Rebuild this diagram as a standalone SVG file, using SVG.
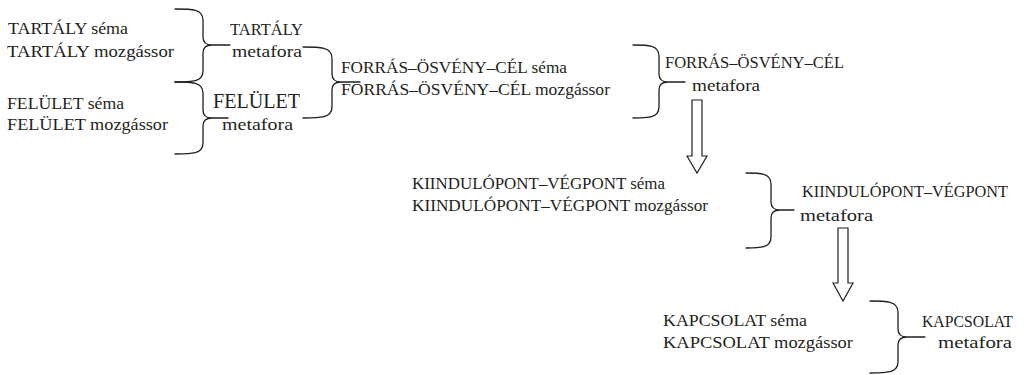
<svg xmlns="http://www.w3.org/2000/svg" width="1027" height="375" viewBox="0 0 1027 375">
<style>
text{font-family:'Liberation Serif','Times New Roman',serif;font-size:17px;fill:#231f20}
.cap{font-size:16px}
.big{font-size:20px}
.brace{fill:none;stroke:#231f20;stroke-width:1.3;stroke-linecap:round;stroke-linejoin:round}
.arrow{fill:#fff;stroke:#231f20;stroke-width:1.2}
</style>
<rect width="1027" height="375" fill="#fff"/>
<g id="tartaly">
<text x="8" y="34" textLength="120" lengthAdjust="spacingAndGlyphs">TARTÁLY séma</text>
<text x="7" y="57" textLength="167" lengthAdjust="spacingAndGlyphs">TARTÁLY mozgássor</text>
<text class="cap" x="230" y="35" textLength="73" lengthAdjust="spacingAndGlyphs">TARTÁLY</text>
<text x="232" y="57" textLength="70" lengthAdjust="spacingAndGlyphs">metafora</text>
</g>
<g id="felulet">
<text x="7" y="109" textLength="117" lengthAdjust="spacingAndGlyphs">FELÜLET séma</text>
<text x="7" y="130" textLength="161" lengthAdjust="spacingAndGlyphs">FELÜLET mozgássor</text>
<text class="big" x="213" y="108" textLength="87" lengthAdjust="spacingAndGlyphs">FELÜLET</text>
<text x="222" y="130" textLength="71" lengthAdjust="spacingAndGlyphs">metafora</text>
</g>
<g id="forras">
<text x="341" y="73" textLength="226" lengthAdjust="spacingAndGlyphs">FORRÁS–ÖSVÉNY–CÉL séma</text>
<text x="341" y="95" textLength="269" lengthAdjust="spacingAndGlyphs">FORRÁS–ÖSVÉNY–CÉL mozgássor</text>
<text class="cap" x="665" y="68" textLength="179" lengthAdjust="spacingAndGlyphs">FORRÁS–ÖSVÉNY–CÉL</text>
<text x="692" y="91" textLength="68" lengthAdjust="spacingAndGlyphs">metafora</text>
</g>
<g id="kiindulopont">
<text x="412" y="189" textLength="253" lengthAdjust="spacingAndGlyphs">KIINDULÓPONT–VÉGPONT séma</text>
<text x="412" y="211" textLength="296" lengthAdjust="spacingAndGlyphs">KIINDULÓPONT–VÉGPONT mozgássor</text>
<text class="cap" x="802" y="197" textLength="206" lengthAdjust="spacingAndGlyphs">KIINDULÓPONT–VÉGPONT</text>
<text x="800" y="221" textLength="73" lengthAdjust="spacingAndGlyphs">metafora</text>
</g>
<g id="kapcsolat">
<text x="663" y="326" textLength="144" lengthAdjust="spacingAndGlyphs">KAPCSOLAT séma</text>
<text x="663" y="348" textLength="190" lengthAdjust="spacingAndGlyphs">KAPCSOLAT mozgássor</text>
<text class="cap" x="922" y="327" textLength="91" lengthAdjust="spacingAndGlyphs">KAPCSOLAT</text>
<text x="938" y="348" textLength="74" lengthAdjust="spacingAndGlyphs">metafora</text>
</g>
<g id="connectors">
<path class="brace" d="M175 9 C192 9 203 9 203 20 L203 37 Q203 45 212 45 L230 45 L212 45 Q203 45 203 53 L203 71 C203 82 192 82 175 82"/>
<path class="brace" d="M175 82 C192 82 203 82 203 93 L203 110 Q203 118 212 118 L228 118 L212 118 Q203 118 203 126 L203 143 C203 154 192 154 175 154"/>
<path class="brace" d="M303 47 C320 47 332 47 332 58 L332 74 Q332 82 341 82 L360 82 L341 82 Q332 82 332 90 L332 107 C332 118 320 118 303 118"/>
<path class="brace" d="M633 45 C648 45 659 45 659 56 L659 74 Q659 82 668 82 L685 82 L668 82 Q659 82 659 90 L659 107 C659 118 648 118 633 118"/>
<path class="brace" d="M746 173 C760 173 771 173 771 184 L771 202 Q771 210 780 210 L794 210 L780 210 Q771 210 771 218 L771 237 C771 248 760 248 746 248"/>
<path class="brace" d="M870 301 C886 301 898 301 898 312 L898 329 Q898 337 907 337 L925 337 L907 337 Q898 337 898 345 L898 362 C898 373 886 373 870 373"/>
<path class="arrow" d="M692 100 L702 100 L702 156 L707 156 L697 173 L687 156 L692 156 Z"/>
<path class="arrow" d="M838 228 L848 228 L848 283 L853 283 L843 301 L833 283 L838 283 Z"/>
</g>
</svg>
